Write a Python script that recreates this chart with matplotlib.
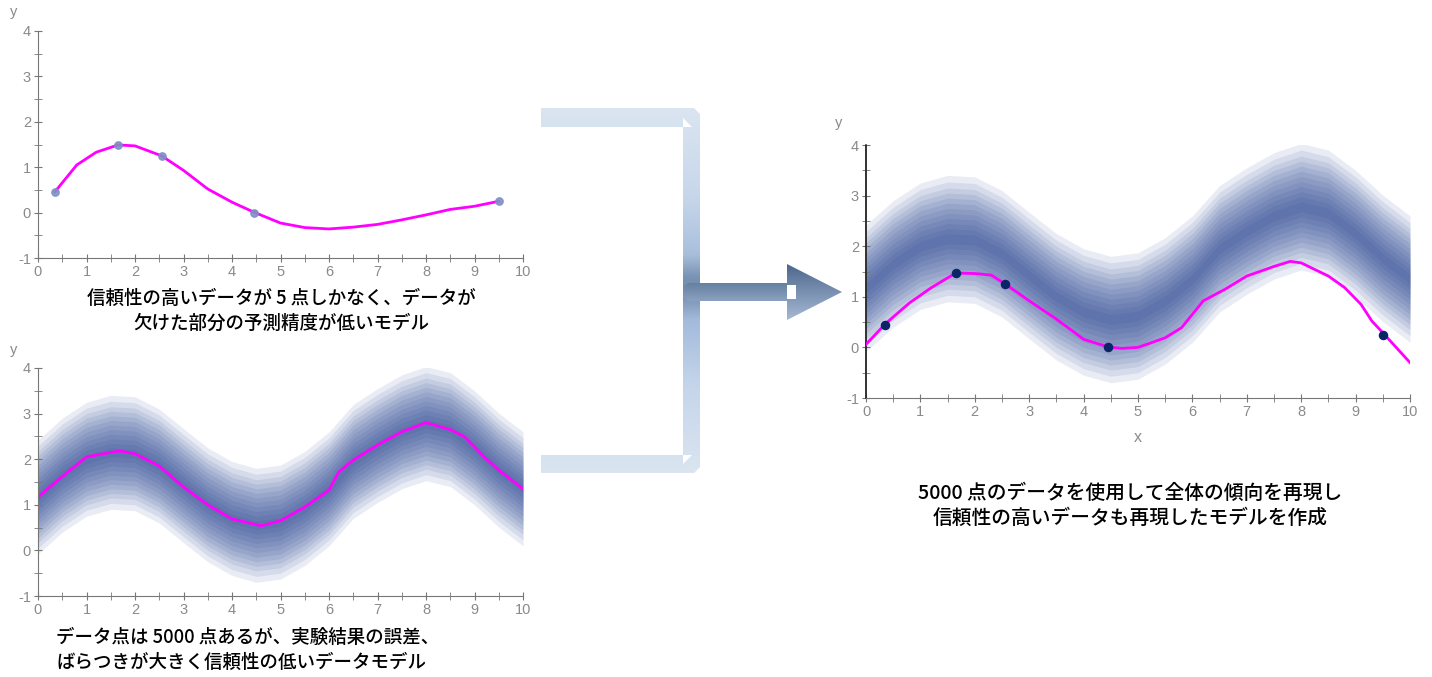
import numpy as np
import matplotlib
matplotlib.use("Agg")
import matplotlib.pyplot as plt
from matplotlib.patches import Polygon, Rectangle
from matplotlib.colors import LinearSegmentedColormap

plt.rcParams['font.family'] = ['Liberation Sans Narrow', 'Liberation Sans', 'DejaVu Sans']
plt.rcParams['axes.unicode_minus'] = False

# --- data ---
# the 5 reliable points
pts_x = [0.35, 1.65, 2.55, 4.45, 9.5]
pts_y = [0.45, 1.48, 1.25, 0.0, 0.25]

# model fitted on 5 points only (top left)
fit5_x = [0.35, 0.8, 1.2, 1.65, 2.0, 2.55, 3.0, 3.5, 4.0, 4.45, 5.0, 5.5, 6.0, 6.5, 7.0, 7.5, 8.0, 8.5, 9.0, 9.5]
fit5_y = [0.46, 1.05, 1.33, 1.49, 1.47, 1.25, 0.93, 0.52, 0.23, 0.01, -0.23, -0.33, -0.36, -0.32, -0.26, -0.16, -0.05, 0.07, 0.14, 0.25]

# 5000 noisy points: cloud centre and spread (bottom left / right)
cloud_x = [0, 0.5, 1, 1.5, 2, 2.5, 3, 3.5, 4, 4.5, 5, 5.5, 6, 6.5, 7, 7.5, 8, 8.5, 9, 9.5, 10]
cloud_mid = [1.17, 1.65, 2.0, 2.15, 2.12, 1.85, 1.42, 1.0, 0.7, 0.55, 0.62, 0.92, 1.35, 1.95, 2.3, 2.6, 2.78, 2.65, 2.25, 1.76, 1.35]
cloud_spread = [0.1, 0.2, 0.3, 0.4, 0.5, 0.6, 0.7, 0.8, 0.9, 1.0, 1.12, 1.25]

# model fitted on noisy data only (bottom left)
fitn_x = [0, 0.5, 1, 1.5, 1.7, 2, 2.5, 3, 3.5, 4, 4.6, 5, 5.5, 6, 6.2, 6.5, 7, 7.5, 8, 8.5, 8.8, 9.2, 9.5, 10]
fitn_y = [1.17, 1.62, 2.05, 2.15, 2.18, 2.12, 1.85, 1.39, 1.0, 0.69, 0.54, 0.65, 0.95, 1.32, 1.72, 1.98, 2.31, 2.6, 2.8, 2.65, 2.49, 2.05, 1.76, 1.35]

# combined model (right)
fitc_x = [0, 0.35, 0.8, 1.2, 1.65, 2.0, 2.3, 2.55, 3.0, 3.5, 4.0, 4.45, 4.7, 5.0, 5.5, 5.8, 6.2, 6.6, 7.0, 7.5, 7.8, 8.0, 8.5, 8.8, 9.1, 9.3, 9.5, 10]
fitc_y = [0.06, 0.46, 0.88, 1.18, 1.47, 1.46, 1.43, 1.26, 0.92, 0.56, 0.16, 0.01, -0.02, 0.0, 0.19, 0.39, 0.92, 1.15, 1.41, 1.6, 1.7, 1.67, 1.41, 1.18, 0.85, 0.52, 0.29, -0.3]

cap_top = "信頼性の高いデータが 5 点しかなく、データが\n欠けた部分の予測精度が低いモデル"
cap_bottom = "データ点は 5000 点あるが、実験結果の誤差、\nばらつきが大きく信頼性の低いデータモデル"
cap_right = "5000 点のデータを使用して全体の傾向を再現し\n信頼性の高いデータも再現したモデルを作成"

W, H = 1432, 677
fig = plt.figure(figsize=(W / 100, H / 100), dpi=100)


def px_axes(x0, x1, y0, y1):
    # pixel box -> figure axes
    return fig.add_axes([x0 / W, 1 - y1 / H, (x1 - x0) / W, (y1 - y0) / H])


def style_axes(ax, dark_left=False):
    ax.set_xlim(0, 10)
    ax.set_ylim(-1, 4)
    for s in ['top', 'right']:
        ax.spines[s].set_visible(False)
    ax.spines['bottom'].set_color('#777777')
    ax.spines['left'].set_color('#777777')
    if dark_left:
        ax.spines['left'].set_color('#222222')
        ax.spines['left'].set_linestyle((0, (2, 1)))
        ax.spines['left'].set_linewidth(1.3)
    ax.set_xticks(range(0, 11))
    ax.set_yticks(range(-1, 5))
    ax.set_xticks(np.arange(0.5, 10, 1), minor=True)
    ax.set_yticks(np.arange(-0.5, 4, 1), minor=True)
    ax.tick_params(which='both', direction='inout', length=6, color='#777777',
                   labelcolor='#8a8a8a', labelsize=10.5, pad=2)
    ax.patch.set_alpha(0)


def draw_cloud(ax):
    mid = np.array(cloud_mid)
    for s in cloud_spread:
        ax.fill_between(cloud_x, mid - s, mid + s, color='#1f3c8c', alpha=0.095, lw=0)


# top left
ax1 = px_axes(38, 523, 31, 258)
style_axes(ax1)
ax1.plot(fit5_x, fit5_y, color='#ff00ff', lw=2, zorder=3)
ax1.scatter(pts_x, pts_y, s=28, color='#7f90c6', alpha=0.9, zorder=4)
fig.text(10 / W, 1 - 12 / H, 'y', color='#8a8a8a', fontsize=10.5, va='center')

# bottom left
ax2 = px_axes(38, 523, 368, 596)
style_axes(ax2)
ax2.plot(fitn_x, fitn_y, color='#ff00ff', lw=2, zorder=2)
draw_cloud(ax2)
fig.text(10 / W, 1 - 350 / H, 'y', color='#8a8a8a', fontsize=10.5, va='center')

# right
ax3 = px_axes(866, 1410, 145, 398)
style_axes(ax3, dark_left=True)
draw_cloud(ax3)
ax3.plot(fitc_x, fitc_y, color='#ff00ff', lw=2, zorder=3)
ax3.scatter(pts_x, pts_y, s=34, color='#0c2566', zorder=4)
fig.text(835 / W, 1 - 123 / H, 'y', color='#8a8a8a', fontsize=10.5, va='center')
fig.text(1138 / W, 1 - 437 / H, 'x', color='#8a8a8a', fontsize=11.5, ha='center', va='center')

# captions
jp = ['Noto Sans CJK JP', 'DejaVu Sans']
fig.text(281 / W, 1 - 311 / H, cap_top, family=jp, fontsize=13.3, weight='medium',
         ha='center', va='center', linespacing=1.4, multialignment='center')
fig.text(56 / W, 1 - 650 / H, cap_bottom, family=jp, fontsize=13.3, weight='medium',
         ha='left', va='center', linespacing=1.4)
fig.text(1130 / W, 1 - 506 / H, cap_right, family=jp, fontsize=14.2, weight='medium',
         ha='center', va='center', linespacing=1.35, multialignment='center')

# connector bracket and arrow, drawn in pixel space
ov = fig.add_axes([0, 0, 1, 1], zorder=-1)
ov.axis('off')


def gradient_fill(poly_pts, colors, y0, y1, x0, x1):
    patch = Polygon(poly_pts, closed=True, fc='none', ec='none')
    ov.add_patch(patch)
    cmap = LinearSegmentedColormap.from_list('g', colors)
    grad = np.linspace(0, 1, 256).reshape(-1, 1)
    im = ov.imshow(grad, cmap=cmap, extent=[x0, x1, y1, y0], aspect='auto',
                   interpolation='bilinear', zorder=1)
    im.set_clip_path(patch)


# bracket shape
bracket = [(541, 108), (694, 108), (700, 114), (700, 467), (694, 473), (541, 473),
           (541, 455), (683, 455), (683, 127), (541, 127)]
gradient_fill(bracket, [(0.0, '#dbe5f1'), (0.25, '#c6d6ea'), (0.40, '#a8bfdc'),
                        (0.46, '#7c95b6'), (0.50, '#6f88a8'), (0.58, '#a3badb'),
                        (0.75, '#c3d4ea'), (1.0, '#dbe5f1')], 108, 473, 541, 700)
ov.add_patch(Polygon([(683, 118), (692, 127), (683, 127)], closed=True, fc='white', ec='none', zorder=2))
ov.add_patch(Polygon([(683, 464), (692, 455), (683, 455)], closed=True, fc='white', ec='none', zorder=2))

# arrow shaft and head
shaft = [(688, 283), (789, 283), (789, 301), (688, 301), (683, 296), (683, 288)]
gradient_fill(shaft, ['#66809f', '#8aa1c0'], 283, 301, 683, 790)
head = [(787, 264), (842, 292), (787, 320)]
gradient_fill(head, ['#4c678d', '#a6b9d4'], 264, 320, 787, 842)
ov.add_patch(Rectangle((787, 285), 9, 14, fc='white', ec='none', zorder=2))
ov.set_xlim(0, W)
ov.set_ylim(H, 0)

fig.savefig('out.png', dpi=100)
